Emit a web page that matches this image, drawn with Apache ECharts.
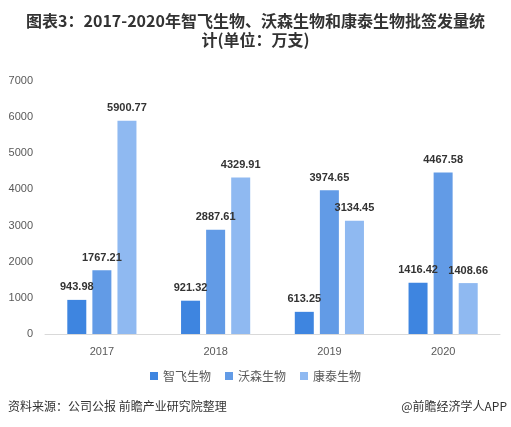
<!DOCTYPE html>
<html>
<head>
<meta charset="utf-8">
<script src="https://cdn.jsdelivr.net/npm/echarts@6/dist/echarts.min.js"></script>
<style>
html,body{margin:0;padding:0;background:#fff;}
#chart{width:511px;height:427px;}
</style>
</head>
<body>
<div id="chart"></div>
<script>
var years = ['2017', '2018', '2019', '2020'];
var zhifei = [943.98, 921.32, 613.25, 1416.42];
var wosen = [1767.21, 2887.61, 3974.65, 4467.58];
var kangtai = [5900.77, 4329.91, 3134.45, 1408.66];

var myChart = echarts.init(document.getElementById('chart'));

function bar(name, data, color) {
    return {
        name: name,
        type: 'bar',
        barWidth: 19,
        barGap: '32%',
        data: data,
        itemStyle: {color: color},
        label: {
            show: true,
            position: 'top',
            distance: 7,
            color: '#333',
            fontWeight: 'bold',
            fontSize: 11,
            fontFamily: 'Liberation Sans'
        }
    };
}

var option = {
    backgroundColor: '#fff',
    textStyle: {fontFamily: 'Noto Sans CJK SC'},
    title: {
        text: '图表3：2017-2020年智飞生物、沃森生物和康泰生物批签发量统\n计(单位：万支)',
        left: 'center',
        top: 6,
        textStyle: {
            fontSize: 16,
            fontWeight: 'bold',
            color: '#333',
            lineHeight: 19,
            fontFamily: 'Noto Sans CJK SC'
        }
    },
    grid: {left: 45, right: 11, top: 81, bottom: 93, containLabel: false},
    xAxis: {
        type: 'category',
        data: years,
        axisTick: {show: false},
        axisLine: {lineStyle: {color: '#d9d9d9'}},
        axisLabel: {color: '#595959', fontSize: 11, margin: 12, fontFamily: 'Liberation Sans'}
    },
    yAxis: {
        type: 'value',
        min: 0,
        max: 7000,
        interval: 1000,
        splitLine: {show: false},
        axisLine: {show: false},
        axisTick: {show: false},
        axisLabel: {
            color: '#595959',
            fontSize: 11,
            margin: 12,
            fontFamily: 'Liberation Sans',
            formatter: function (v) { return String(v); }
        }
    },
    legend: {
        bottom: 40,
        left: 'center',
        itemWidth: 8,
        itemHeight: 8,
        itemGap: 14,
        icon: 'rect',
        textStyle: {color: '#595959', fontSize: 12}
    },
    graphic: [
        {
            type: 'text',
            left: 8,
            top: 400,
            style: {text: '资料来源：公司公报 前瞻产业研究院整理', fill: '#333', fontSize: 12, fontFamily: 'Noto Sans CJK SC'}
        },
        {
            type: 'text',
            right: 4,
            top: 400,
            style: {text: '@前瞻经济学人APP', fill: '#333', fontSize: 12, fontFamily: 'Noto Sans CJK SC'}
        }
    ],
    series: [
        bar('智飞生物', zhifei, '#3e85e0'),
        bar('沃森生物', wosen, '#629be6'),
        bar('康泰生物', kangtai, '#8fb9f1')
    ]
};

myChart.setOption(option);
window.addEventListener("resize", function () {
    myChart.resize();
});
</script>
</body>
</html>
